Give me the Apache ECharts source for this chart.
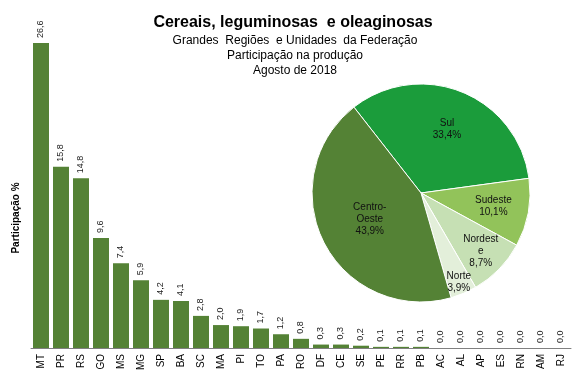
<!DOCTYPE html>
<html><head><meta charset="utf-8">
<script src="https://cdn.jsdelivr.net/npm/echarts@6/dist/echarts.min.js"></script>
<style>html,body{margin:0;padding:0;background:#fff}#c{width:577px;height:384px}</style>
</head><body><div id="c"></div>
<script>
var categories = ["MT","PR","RS","GO","MS","MG","SP","BA","SC","MA","PI","TO","PA","RO","DF","CE","SE","PE","RR","PB","AC","AL","AP","ES","RN","AM","RJ"];
var values = [26.6,15.8,14.8,9.6,7.4,5.9,4.2,4.1,2.8,2.0,1.9,1.7,1.2,0.8,0.3,0.3,0.2,0.1,0.1,0.1,0.0,0.0,0.0,0.0,0.0,0.0,0.0];
var regions = ["Sul","Sudeste","Nordeste","Norte","Centro-Oeste"];
var regionLabels = ["Sul","Sudeste","Nordest\ne","Norte","Centro-\nOeste"];
var regionValues = [33.4,10.1,8.7,3.9,43.9];
var regionColors = ["#1b9c3b","#92c35a","#c6e0b4","#e3efda","#548235"];
// label distance from centre, as a fraction of the default inside distance (r/2)
var labelRadial = [1.2, 1.28, 1.45, 1.68, 1.0];

function fmt(v){ return v.toFixed(1).replace('.', ','); }

var pieCenter = [421, 193];
var chart = echarts.init(document.getElementById('c'));
chart.setOption({
  animation: false,
  textStyle: {fontFamily: 'Liberation Sans, Arial, sans-serif'},
  title: [
    {text: 'Cereais, leguminosas  e oleaginosas', left: 288, top: 10, textAlign: 'center',
     textStyle: {fontSize: 16, fontWeight: 'bold', color: '#000', fontFamily: 'Liberation Sans, Arial'}},
    {text: 'Grandes  Regiões  e Unidades  da Federação\nParticipação na produção\nAgosto de 2018', left: 290, top: 28, textAlign: 'center',
     textStyle: {fontSize: 12, fontWeight: 'normal', color: '#000', lineHeight: 15, fontFamily: 'Liberation Sans, Arial'}}
  ],
  graphic: [
    {type: 'text', x: 16, y: 218, rotation: Math.PI / 2,
     style: {text: 'Participação %', font: 'bold 10px Liberation Sans, Arial', fill: '#000', textAlign: 'center', textVerticalAlign: 'middle'}}
  ],
  grid: {left: 31, right: 6, top: 4, bottom: 36},
  xAxis: {
    type: 'category', data: categories,
    axisLine: {lineStyle: {color: '#808080', width: 1}},
    axisTick: {show: false},
    axisLabel: {rotate: 90, fontSize: 10, color: '#000', margin: 6, interval: 0}
  },
  yAxis: {
    type: 'value', min: 0, max: 30, show: false
  },
  series: [
    {type: 'bar', data: values, barCategoryGap: '20%',
     itemStyle: {color: '#548235'},
     label: {show: true, position: 'top', rotate: 90, align: 'left', verticalAlign: 'middle', distance: 5,
       fontSize: 9, color: '#222', formatter: function(p){ return fmt(p.value); }}
    },
    {type: 'pie', center: pieCenter, radius: 109, startAngle: 128, clockwise: true,
     avoidLabelOverlap: false,
     data: regions.map(function(n,i){ return {name: n, value: regionValues[i], itemStyle: {color: regionColors[i]}}; }),
     itemStyle: {borderColor: '#fff', borderWidth: 1},
     label: {show: true, position: 'inside', fontSize: 10, color: '#111', lineHeight: 12,
       formatter: function(p){ return regionLabels[p.dataIndex] + '\n' + fmt(p.value) + '%'; }},
     labelLine: {show: false},
     labelLayout: function(p){
       if (p.seriesIndex !== 1) return {};
       var r = p.labelRect;
       var cx = r.x + r.width / 2, cy = r.y + r.height / 2;
       var f = labelRadial[p.dataIndex] - 1;
       return {dx: (cx - pieCenter[0]) * f, dy: (cy - pieCenter[1]) * f, hideOverlap: false};
     }
    }
  ]
});
</script></body></html>
